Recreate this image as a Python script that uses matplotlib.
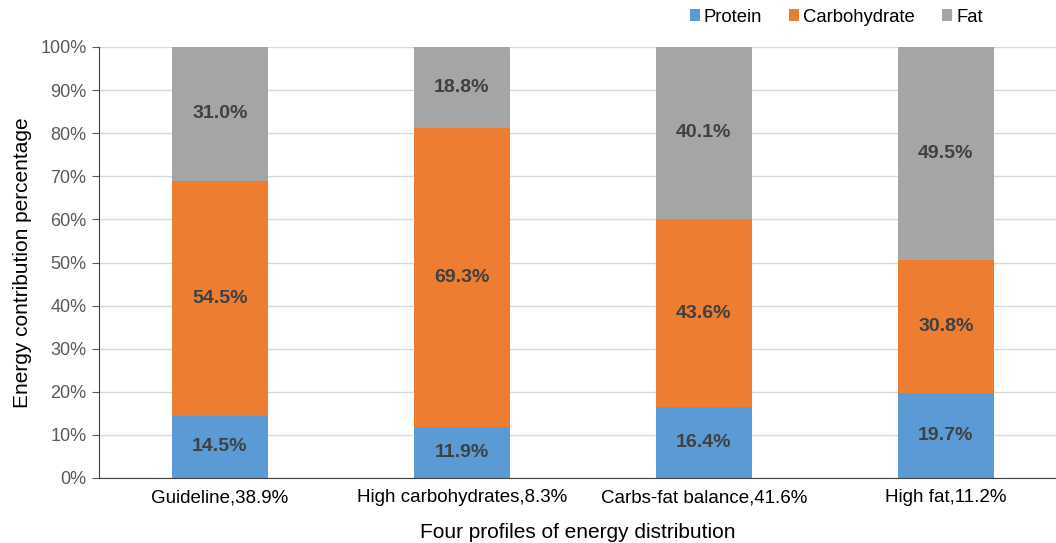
import numpy as np
import matplotlib.pyplot as plt
from matplotlib.ticker import PercentFormatter

plt.rcParams['font.family'] = ['Liberation Sans', 'DejaVu Sans']

profiles = ["Guideline,38.9%", "High carbohydrates,8.3%",
            "Carbs-fat balance,41.6%", "High fat,11.2%"]
protein = [14.5, 11.9, 16.4, 19.7]
carbohydrate = [54.5, 69.3, 43.6, 30.8]
fat = [31.0, 18.8, 40.1, 49.5]

colors = ["#5B9BD5", "#ED7D31", "#A5A5A5"]
names = ["Protein", "Carbohydrate", "Fat"]

fig = plt.figure(figsize=(10.56, 5.43), dpi=100)
ax = fig.add_axes([99 / 1056, 65 / 543, (1056 - 99) / 1056, (478 - 47) / 543])

x = np.arange(len(profiles))
bottom = np.zeros(len(profiles))
for vals, c, n in zip([protein, carbohydrate, fat], colors, names):
    vals = np.array(vals)
    ax.bar(x, vals, 0.4, bottom=bottom, color=c, label=n, zorder=2)
    for xi, b, v in zip(x, bottom, vals):
        ax.text(xi, b + v / 2, f"{v:.1f}%", ha="center", va="center",
                fontsize=14, fontweight="bold", color="#404040", zorder=3)
    bottom += vals

ax.set_xlim(-0.5, 3.455)
ax.set_ylim(0, 100)
ax.set_yticks(np.arange(0, 101, 10))
ax.yaxis.set_major_formatter(PercentFormatter(decimals=0))
ax.grid(axis="y", color="#D9D9D9", lw=1, zorder=0)
ax.set_xticks(x)
ax.set_xticklabels(profiles)
ax.tick_params(axis="x", length=0, labelsize=13.5, labelcolor="black", pad=8)
ax.tick_params(axis="y", length=5, labelsize=13, colors="#595959", pad=4)
for s in ["top", "right"]:
    ax.spines[s].set_visible(False)
ax.spines["left"].set_color("#404040")
ax.spines["bottom"].set_color("#404040")
ax.set_xlabel("Four profiles of energy distribution", fontsize=15, labelpad=12)
ax.set_ylabel("Energy contribution percentage", fontsize=15, labelpad=6)

ax.legend(loc="center right", bbox_to_anchor=(992 / 1056, 1 - 17 / 543),
          bbox_transform=fig.transFigure, ncol=3, frameon=False, fontsize=13.3,
          borderpad=0, handlelength=0.55, handleheight=0.55, handletextpad=0.22,
          columnspacing=1.45)

fig.savefig("out.png", dpi=100)
